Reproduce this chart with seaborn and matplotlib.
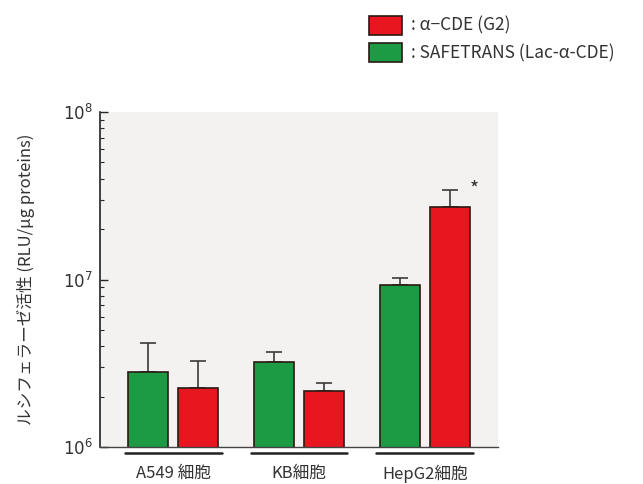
import numpy as np
import pandas as pd
import matplotlib
matplotlib.use('Agg')
import matplotlib.pyplot as plt
import matplotlib.transforms as mtransforms
import seaborn as sns

# data (RLU / ug protein, log scale)
cells = ['A549 細胞', 'KB細胞', 'HepG2細胞']
reagents = ['SAFETRANS (Lac-α-CDE)', 'α−CDE (G2)']
safetrans_mean = [2.8e6, 3.2e6, 9.3e6]
safetrans_err = [1.35e6, 0.5e6, 0.9e6]
cde_mean = [2.25e6, 2.15e6, 2.7e7]
cde_err = [1.0e6, 0.27e6, 7.0e6]

df = pd.DataFrame({
    'cell': cells * 2,
    'reagent': [reagents[0]] * 3 + [reagents[1]] * 3,
    'value': safetrans_mean + cde_mean,
    'err': safetrans_err + cde_err,
})

sns.set_style('white')
plt.rcParams['font.family'] = ['Noto Sans CJK JP', 'DejaVu Sans']
plt.rcParams['mathtext.fontset'] = 'dejavusans'

palette = {reagents[0]: '#1d9a44', reagents[1]: '#e8161f'}
text_col = '#333333'

fig = plt.figure(figsize=(6.43, 4.84), dpi=100)
ax = fig.add_axes([0.1555, 0.0764, 0.619, 0.6922])
ax.set_facecolor('#f3f2f0')

sns.barplot(data=df, x='cell', y='value', hue='reagent', hue_order=reagents,
            palette=palette, errorbar=None, width=0.8, gap=0.2,
            edgecolor='#2a1a14', linewidth=1.2, saturation=1, ax=ax)
ax.set_yscale('log')
ax.set_ylim(1e6, 1e8)
ax.set_xlim(-0.58, 2.58)

# one-sided (upper) error bars, positioned from the drawn bars
for container, r in zip(ax.containers, reagents):
    sub = df[df['reagent'] == r]
    xs = [p.get_x() + p.get_width() / 2 for p in container]
    ax.errorbar(xs, sub['value'], yerr=[np.zeros(len(sub)), sub['err']],
                fmt='none', ecolor='#3a3a3a', elinewidth=1.2, capsize=6,
                capthick=1.2, zorder=1)
    for patch in container:
        patch.set_zorder(2)

# significance star on HepG2 / α-CDE
last = ax.containers[1][2]
top = cde_mean[2] + cde_err[2]
ax.text(last.get_x() + last.get_width() / 2 + 0.19, top, '*',
        ha='center', va='center', fontsize=14, color=text_col)

# group underlines below the axis
trans = mtransforms.blended_transform_factory(ax.transData, ax.transAxes)
for i in range(len(cells)):
    ax.plot([i - 0.385, i + 0.385], [-0.018, -0.018], color='#222222',
            lw=1.8, transform=trans, clip_on=False)

sns.despine(ax=ax)
ax.spines['left'].set_color('#222222')
ax.spines['bottom'].set_color('#444444')
ax.spines['left'].set_linewidth(1.2)
ax.spines['bottom'].set_linewidth(1.0)

ax.tick_params(axis='x', length=0, pad=13, labelsize=12, labelcolor=text_col)
ax.tick_params(axis='y', which='major', direction='in', length=6, width=1,
               labelsize=12, labelcolor=text_col, left=True, pad=5)
ax.tick_params(axis='y', which='minor', direction='in', length=3, width=0.8,
               left=True)
ax.set_yticks([1e6, 1e7, 1e8])
ax.set_yticklabels(['$10^{6}$', '$10^{7}$', '$10^{8}$'])
ax.set_xlabel('')
ax.set_ylabel('ルシフェラーゼ活性 (RLU/μg proteins)', fontsize=12,
              color=text_col)
ax.yaxis.set_label_coords(-0.163, 0.5)

# legend, top right, red entry first
handles, labels = ax.get_legend_handles_labels()
ax.get_legend().remove()
fig.legend(handles[::-1], [': ' + l for l in labels[::-1]],
           loc='upper left', bbox_to_anchor=(0.55, 1.0), frameon=False,
           fontsize=12.5, handlelength=1.9, handleheight=1.3,
           handletextpad=0.5, labelspacing=0.45, labelcolor=text_col,
           borderaxespad=0.5)

fig.savefig('out.png', dpi=100)
